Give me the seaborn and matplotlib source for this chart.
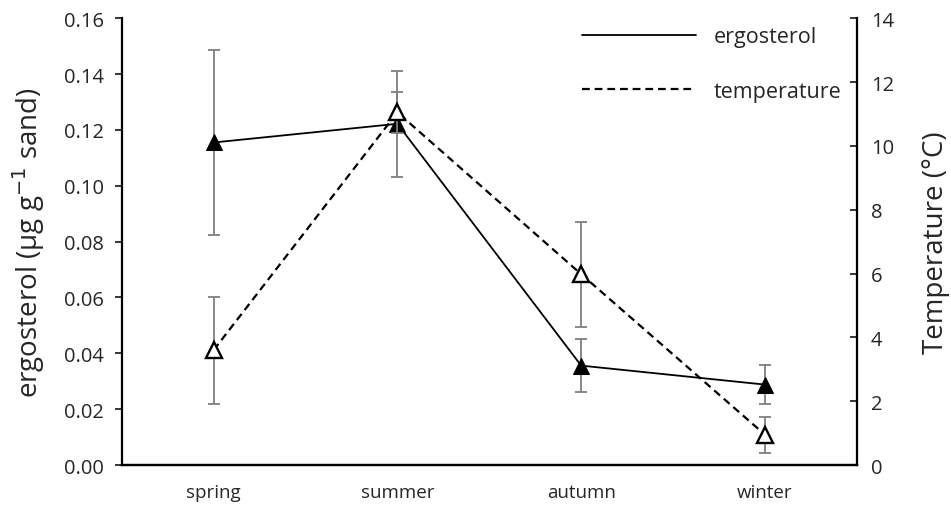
import numpy as np
import matplotlib
matplotlib.use("Agg")
import matplotlib.pyplot as plt
import seaborn as sns
from matplotlib.lines import Line2D

seasons = ["spring", "summer", "autumn", "winter"]
ergosterol = [0.1155, 0.1222, 0.0356, 0.0288]
ergosterol_sd = [0.0330, 0.0190, 0.0095, 0.0071]
temperature = [3.6, 11.05, 5.98, 0.95]
temperature_sd = [1.68, 0.65, 1.65, 0.57]

sns.set_style("white")
plt.rcParams["font.family"] = ["Open Sans", "DejaVu Sans"]

fig = plt.figure(figsize=(9.51, 5.06), dpi=100)
ax = fig.add_axes([0.128, 0.079, 0.773, 0.883])
ax2 = ax.twinx()

x = np.arange(len(seasons))
grey = "#7f7f7f"
dash = (0, (3.5, 2.2))

# error bars first, then lines with markers on top
ax.errorbar(x, ergosterol, yerr=ergosterol_sd, fmt="none", ecolor=grey,
            elinewidth=1.3, capsize=4, capthick=1.3, zorder=1)
sns.lineplot(x=x, y=ergosterol, ax=ax, color="black", linewidth=1.3,
             marker="^", markersize=11, markerfacecolor="black",
             markeredgecolor="black", zorder=3)

ax2.errorbar(x, temperature, yerr=temperature_sd, fmt="none", ecolor=grey,
             elinewidth=1.3, capsize=4, capthick=1.3, zorder=1)
sns.lineplot(x=x, y=temperature, ax=ax2, color="black", linewidth=1.6,
             linestyle=dash, marker="^", markersize=11,
             markerfacecolor="white", markeredgecolor="black",
             markeredgewidth=1.7, zorder=3)

ax.set_xlim(-0.5, 3.5)
ax.set_ylim(0, 0.16)
ax2.set_ylim(0, 14)
ax.set_yticks(np.arange(0, 0.161, 0.02))
ax.set_yticklabels([f"{v:.2f}" for v in np.arange(0, 0.161, 0.02)])
ax2.set_yticks(np.arange(0, 15, 2))
ax.set_xticks(x)
ax.set_xticklabels(seasons)

for a in (ax, ax2):
    for s in a.spines.values():
        s.set_visible(False)
    a.spines["left"].set_visible(a is ax)
    a.spines["right"].set_visible(a is ax2)
    a.spines["bottom"].set_visible(True)
    for s in ("left", "right", "bottom"):
        a.spines[s].set_color("black")
        a.spines[s].set_linewidth(1.6)

ax.tick_params(axis="y", direction="out", length=5, width=1.3, labelsize=14.5, pad=8, left=True)
ax.tick_params(axis="x", length=0, labelsize=13.5, pad=13)
ax2.tick_params(axis="y", direction="in", length=5, width=1.3, labelsize=14.5, pad=10, right=True)

ax.set_ylabel("ergosterol (µg g$^{-1}$ sand)", fontsize=20, labelpad=12)
ax2.set_ylabel("Temperature (°C)", fontsize=20, labelpad=20)
ax.set_xlabel("")

handles = [Line2D([], [], color="black", linewidth=1.3),
           Line2D([], [], color="black", linewidth=1.6, linestyle=dash)]
ax2.legend(handles, ["ergosterol", "temperature"], loc="upper right",
           frameon=False, fontsize=15.5, handlelength=5.3, labelspacing=1.55,
           handletextpad=0.8, bbox_to_anchor=(1.005, 1.025))

fig.savefig("out.png", dpi=100)
